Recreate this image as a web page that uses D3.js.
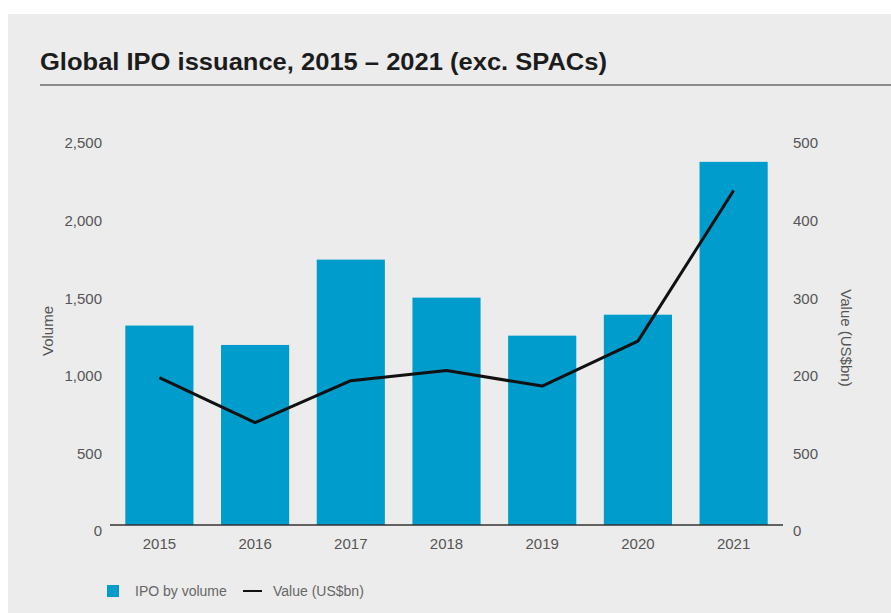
<!DOCTYPE html>
<html>
<head>
<meta charset="utf-8">
<script src="https://cdn.jsdelivr.net/npm/d3@7"></script>
<style>
  html, body { margin: 0; padding: 0; background: #ffffff; }
  svg { display: block; }
  text { font-family: "Liberation Sans", Arial, Helvetica, sans-serif; }
</style>
</head>
<body>
<svg id="chart" width="891" height="613"></svg>
<script>
// Global IPO issuance, 2015 – 2021 (exc. SPACs)
const years = ["2015", "2016", "2017", "2018", "2019", "2020", "2021"];
const ipoVolume = [1285, 1160, 1710, 1465, 1220, 1355, 2340];   // number of IPOs (bars, left axis)
const ipoValue = [190, 132, 186, 199, 179, 237, 431];           // US$bn (line, right axis)

const leftTicks = [0, 500, 1000, 1500, 2000, 2500];
const leftTickLabels = ["0", "500", "1,000", "1,500", "2,000", "2,500"];
const rightTicks = [0, 100, 200, 300, 400, 500];
const rightTickLabels = ["0", "500", "200", "300", "400", "500"];

const titleText = "Global IPO issuance, 2015 – 2021 (exc. SPACs)";
const leftAxisTitle = "Volume";
const rightAxisTitle = "Value (US$bn)";
const legendLabels = ["IPO by volume", "Value (US$bn)"];

const W = 891, H = 613;
const svg = d3.select("#chart");

// panel background
svg.append("rect").attr("x", 8).attr("y", 14).attr("width", W - 8).attr("height", H - 14)
  .attr("fill", "#ececec");

// title and rule
svg.append("text")
  .attr("x", 40).attr("y", 70)
  .attr("font-size", 24).attr("font-weight", "bold").attr("fill", "#1c1c1c")
  .attr("textLength", 567).attr("lengthAdjust", "spacingAndGlyphs")
  .text(titleText);
svg.append("line").attr("x1", 40).attr("x2", W).attr("y1", 85).attr("y2", 85)
  .attr("stroke", "#8c8c8c").attr("stroke-width", 2);

// plot geometry
const x0 = 110, x1 = 783, yBase = 525, yTop = 137;
const x = d3.scaleBand().domain(years).range([x0, x1]).paddingInner(0.288).paddingOuter(0.16);
const yL = d3.scaleLinear().domain([0, 2500]).range([yBase, yTop]);
const yR = d3.scaleLinear().domain([0, 500]).range([yBase, yTop]);

// bars
svg.append("g").selectAll("rect").data(years).join("rect")
  .attr("x", d => x(d))
  .attr("width", x.bandwidth())
  .attr("y", (d, i) => yL(ipoVolume[i]))
  .attr("height", (d, i) => yBase - yL(ipoVolume[i]))
  .attr("fill", "#009ccb");

// baseline
svg.append("line").attr("x1", x0).attr("x2", x1).attr("y1", yBase).attr("y2", yBase)
  .attr("stroke", "#333").attr("stroke-width", 1.5);

// value line
const line = d3.line()
  .x((d, i) => x(years[i]) + x.bandwidth() / 2)
  .y(d => yR(d));
svg.append("path").datum(ipoValue)
  .attr("d", line)
  .attr("fill", "none").attr("stroke", "#111").attr("stroke-width", 3)
  .attr("stroke-linejoin", "round");

// axes
const tickStyle = g => {
  g.select(".domain").remove();
  g.selectAll(".tick line").remove();
  g.selectAll(".tick text").attr("fill", "#555").attr("font-size", 15)
    .attr("font-family", "\"Liberation Sans\", Arial, sans-serif");
};

svg.append("g").attr("transform", `translate(${x0},0)`)
  .call(d3.axisLeft(yL).tickValues(leftTicks).tickSize(0).tickPadding(8)
    .tickFormat((d, i) => leftTickLabels[i]))
  .call(tickStyle)
  .call(g => g.selectAll(".tick text").attr("y", 6));

svg.append("g").attr("transform", `translate(${x1},0)`)
  .call(d3.axisRight(yR).tickValues(rightTicks).tickSize(0).tickPadding(10)
    .tickFormat((d, i) => rightTickLabels[i]))
  .call(tickStyle)
  .call(g => g.selectAll(".tick text").attr("y", 6));

svg.append("g").attr("transform", `translate(0,${yBase})`)
  .call(d3.axisBottom(x).tickSize(0).tickPadding(13))
  .call(tickStyle);

// axis titles
svg.append("text")
  .attr("transform", "translate(53,331) rotate(-90)")
  .attr("text-anchor", "middle").attr("font-size", 15).attr("fill", "#555")
  .text(leftAxisTitle);
svg.append("text")
  .attr("transform", "translate(841,338) rotate(90)")
  .attr("text-anchor", "middle").attr("font-size", 15).attr("fill", "#555")
  .text(rightAxisTitle);

// legend
const lg = svg.append("g").attr("transform", "translate(107,591)");
lg.append("rect").attr("x", 0).attr("y", -6).attr("width", 12).attr("height", 12).attr("fill", "#009ccb");
lg.append("text").attr("x", 28).attr("y", 5).attr("font-size", 14).attr("fill", "#666").text(legendLabels[0]);
lg.append("line").attr("x1", 136).attr("x2", 155).attr("y1", 0).attr("y2", 0)
  .attr("stroke", "#111").attr("stroke-width", 2);
lg.append("text").attr("x", 166).attr("y", 5).attr("font-size", 14).attr("fill", "#666").text(legendLabels[1]);
</script>
</body>
</html>
